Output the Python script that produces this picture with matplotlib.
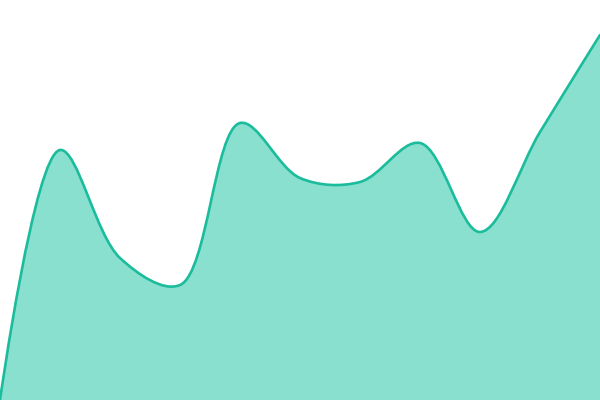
import math

import matplotlib

matplotlib.use("Agg")
import matplotlib.pyplot as plt
from matplotlib.path import Path
from matplotlib.patches import PathPatch

# posiciones (eje x) y valores
x_vals = [0, 60, 120, 180, 240, 300, 360, 420, 480, 540, 600]
y_vals = [0, 250, 142, 115, 277, 222, 218, 257, 168, 268, 365]

LINE_COLOR = "#1abc9c"
FILL_COLOR = "#8ae0cf"


def catmull_rom_path(xs, ys, alpha=0.5):
    """Catmull-Rom centripeta (como d3.curveCatmullRom) en segmentos Bezier."""
    pts = list(zip(xs, ys))
    n = len(pts)
    verts = [pts[0]]
    codes = [Path.MOVETO]
    for i in range(n - 1):
        p1, p2 = pts[i], pts[i + 1]
        l12 = math.dist(p1, p2)
        l12_a, l12_2a = l12 ** alpha, l12 ** (2 * alpha)
        c1 = p1
        if i > 0:
            p0 = pts[i - 1]
            l01 = math.dist(p0, p1)
            l01_a, l01_2a = l01 ** alpha, l01 ** (2 * alpha)
            a = 2 * l01_2a + 3 * l01_a * l12_a + l12_2a
            m = 3 * l01_a * (l01_a + l12_a)
            c1 = tuple((p1[k] * a - p0[k] * l12_2a + p2[k] * l01_2a) / m
                       for k in range(2))
        c2 = p2
        if i + 2 < n:
            p3 = pts[i + 2]
            l23 = math.dist(p2, p3)
            l23_a, l23_2a = l23 ** alpha, l23 ** (2 * alpha)
            b = 2 * l23_2a + 3 * l23_a * l12_a + l12_2a
            m = 3 * l23_a * (l23_a + l12_a)
            c2 = tuple((p2[k] * b + p1[k] * l23_2a - p3[k] * l12_2a) / m
                       for k in range(2))
        verts += [c1, c2, p2]
        codes += [Path.CURVE4] * 3
    return verts, codes


fig = plt.figure(figsize=(6, 4), dpi=100)
ax = fig.add_axes([0, 0, 1, 1])
ax.set_xlim(0, 600)
ax.set_ylim(0, 400)
ax.axis("off")

verts, codes = catmull_rom_path(x_vals, y_vals)

# area rellena hasta la base
area_verts = verts + [(x_vals[-1], 0), (x_vals[0], 0), verts[0]]
area_codes = codes + [Path.LINETO, Path.LINETO, Path.CLOSEPOLY]
ax.add_patch(PathPatch(Path(area_verts, area_codes), facecolor=FILL_COLOR,
                       edgecolor="none"))

# linea superior
ax.add_patch(PathPatch(Path(verts, codes), facecolor="none",
                       edgecolor=LINE_COLOR, linewidth=1.9, capstyle="round"))

fig.savefig("out.png", dpi=100)
